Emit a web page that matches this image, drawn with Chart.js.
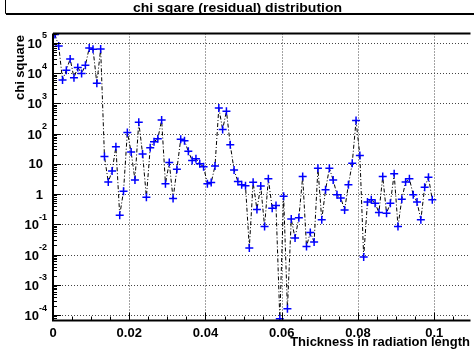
<!DOCTYPE html>
<html lang="en">
<head>
<meta charset="UTF-8" />
<title>chi sqare (residual) distribution</title>
<script src="https://cdn.jsdelivr.net/npm/chart.js@4.4.1/dist/chart.umd.min.js"></script>
<style>
html,body{margin:0;padding:0;background:#fff}
#wrap{width:474px;height:360px;position:relative;overflow:hidden}
</style>
</head>
<body>
<div id="wrap"><canvas id="chi"></canvas></div>

<script>
/* ── data ───────────────────────────────────────────────────────── */
const thickness = [
  0.0005,0.0015,0.0025,0.0035,0.0045,0.0055,0.0065,0.0075,0.0085,0.0095,
  0.0105,0.0115,0.0125,0.0135,0.0145,0.0155,0.0165,0.0175,0.0185,0.0195,
  0.0205,0.0215,0.0225,0.0235,0.0245,0.0255,0.0265,0.0275,0.0285,0.0295,
  0.0305,0.0315,0.0325,0.0335,0.0345,0.0355,0.0365,0.0375,0.0385,0.0395,
  0.0405,0.0415,0.0425,0.0435,0.0445,0.0455,0.0465,0.0475,0.0485,0.0495,
  0.0505,0.0515,0.0525,0.0535,0.0545,0.0555,0.0565,0.0575,0.0585,0.0595,
  0.0605,0.0615,0.0625,0.0635,0.0645,0.0655,0.0665,0.0675,0.0685,0.0695,
  0.0705,0.0715,0.0725,0.0735,0.0745,0.0755,0.0765,0.0775,0.0785,0.0795,
  0.0805,0.0815,0.0825,0.0835,0.0845,0.0855,0.0865,0.0875,0.0885,0.0895,
  0.0905,0.0915,0.0925,0.0935,0.0945,0.0955,0.0965,0.0975,0.0985,0.0995
];
const chiSquare = [
  1.9e5,7.9e4,5.9e3,1.26e4,2.95e4,7.1e3,1.55e4,9.8e3,1.82e4,6.8e4,
  6.2e4,4.6e3,6.3e4,17.4,2.5,5.8,37,0.20,1.24,110,
  24.5,2.95,240,21.4,0.79,34,54,68,282,2.2,
  11,0.71,6.6,65,58,26,12.9,14.8,10,8.1,
  2.2,2.4,8.5,710,138,550,43,6.3,2.6,2.04,
  1.9,0.0166,2.45,0.31,1.86,0.085,3.2,0.34,0.42,7.6e-5,
  0.85,1.6e-4,0.15,0.035,0.166,3.8,0.0186,0.054,0.026,7.1,
  0.141,1.38,7.1,2.95,0.95,0.74,0.30,2.04,10.5,270,
  19,0.0083,0.55,0.65,0.50,0.245,3.8,0.234,0.50,4.7,
  0.085,0.68,2.5,3.2,0.95,0.55,0.141,1.7,3.6,0.65
];
const xTicks = [0,0.02,0.04,0.06,0.08,0.1];
const xTickLabels = ['0','0.02','0.04','0.06','0.08','0.1'];
const yTicks = [1e-4,1e-3,1e-2,1e-1,1,10,1e2,1e3,1e4,1e5];
const yTickBase = ['10','10','10','10','1','10','10','10','10','10'];
const yTickExp  = ['-4','-3','-2','-1','','','2','3','4','5'];

const FONT = '"Liberation Sans", Arial, Helvetica, sans-serif';

/* ── frame, grid, ticks and labels in ROOT style ───────────────── */
const rootFrame = {
  id:'rootFrame',
  beforeDatasetsDraw(chart){
    const {ctx, chartArea:a, scales:{x,y}} = chart;
    ctx.save();
    ctx.strokeStyle='#444';ctx.lineWidth=1;ctx.setLineDash([1,2]);
    ctx.beginPath();
    xTicks.slice(1).forEach(v=>{
      const px=Math.round(x.getPixelForValue(v))+0.5;
      ctx.moveTo(px,a.top);ctx.lineTo(px,a.bottom);
    });
    yTicks.forEach(v=>{
      const py=Math.round(y.getPixelForValue(v))+0.5;
      ctx.moveTo(a.left,py);ctx.lineTo(a.right,py);
    });
    ctx.stroke();
    ctx.restore();
  },
  afterDraw(chart){
    const {ctx, chartArea:a, scales:{x,y}} = chart;
    ctx.save();
    ctx.strokeStyle='#000';ctx.fillStyle='#000';

    // axes lines
    ctx.lineWidth=2;
    ctx.beginPath();
    ctx.moveTo(a.left,a.top);ctx.lineTo(a.right+2,a.top);
    ctx.moveTo(a.left,a.top);ctx.lineTo(a.left,a.bottom);
    ctx.lineTo(a.right+2,a.bottom);
    ctx.stroke();

    // y ticks (major + minor)
    ctx.lineWidth=1;
    ctx.beginPath();
    for(let d=-5;d<=5;d++){
      for(let m=1;m<=9;m++){
        const v=m*Math.pow(10,d);
        if(v<y.min||v>y.max) continue;
        const py=Math.round(y.getPixelForValue(v))+0.5;
        const len=m===1?8:4;
        ctx.moveTo(a.left,py);ctx.lineTo(a.left+len,py);
      }
    }
    // x ticks (major every 0.02, minor every 0.005)
    for(let i=0;i*0.005<=x.max;i++){
      const v=i*0.005;
      const px=Math.round(x.getPixelForValue(v))+0.5;
      const len=i%4===0?8:4;
      ctx.moveTo(px,a.bottom);ctx.lineTo(px,a.bottom-len);
    }
    ctx.stroke();

    // x tick labels
    ctx.font='bold 13px '+FONT;
    ctx.textAlign='center';ctx.textBaseline='middle';
    xTicks.forEach((v,i)=>ctx.fillText(xTickLabels[i],x.getPixelForValue(v),333));

    // y tick labels with exponents
    yTicks.forEach((v,i)=>{
      const py=y.getPixelForValue(v);
      const ex=yTickExp[i];
      ctx.textBaseline='middle';
      if(ex){
        ctx.font='bold 9px '+FONT;
        const ew=ctx.measureText(ex).width;
        ctx.textAlign='left';
        ctx.fillText(ex,47-ew,py-7);
        ctx.font='bold 13px '+FONT;
        ctx.textAlign='right';
        ctx.fillText(yTickBase[i],47-ew,py+1.5);
      }else{
        ctx.font='bold 13px '+FONT;
        ctx.textAlign='right';
        ctx.fillText(yTickBase[i],43,py+1);
      }
    });

    // axis titles
    ctx.font='bold 13px '+FONT;
    ctx.textAlign='right';ctx.textBaseline='middle';
    ctx.fillText('Thickness in radiation length',470,342);
    ctx.save();
    ctx.translate(20,35);ctx.rotate(-Math.PI/2);
    ctx.textAlign='right';
    ctx.fillText('chi square',0,0);
    ctx.restore();

    // title box
    ctx.lineWidth=1;
    ctx.fillStyle='#fff';
    ctx.fillRect(5,0,480,14);
    ctx.beginPath();
    ctx.moveTo(5.5,0);ctx.lineTo(5.5,13.5);ctx.lineTo(480,13.5);
    ctx.stroke();
    ctx.fillStyle='#000';
    ctx.fillRect(6,14,480,1);
    const title='chi sqare (residual) distribution';
    ctx.font='bold 12px '+FONT;
    const tw=ctx.measureText(title).width;
    ctx.save();
    ctx.translate(237.5,12);ctx.scale(209/tw,1);
    ctx.textAlign='center';ctx.textBaseline='alphabetic';
    ctx.fillText(title,0,0);
    ctx.restore();
    ctx.restore();
  }
};

new Chart(document.getElementById('chi').getContext('2d'),{
  type:'line',
  data:{
    datasets:[{
      data:thickness.map((t,i)=>({x:t,y:chiSquare[i]})),
      borderColor:'#000',borderWidth:1,borderDash:[4,2,1,2],
      tension:0,fill:false,
      pointStyle:'cross',pointRadius:4,pointBorderWidth:1.5,
      pointBorderColor:'#0000ff',pointBackgroundColor:'#0000ff'
    }]
  },
  options:{
    responsive:true,maintainAspectRatio:false,animation:false,
    layout:{padding:{left:53,right:0,top:33.5,bottom:39.5}},
    plugins:{legend:{display:false},tooltip:{enabled:false}},
    scales:{
      x:{type:'linear',min:0,max:0.109,display:false},
      y:{type:'logarithmic',min:6.6e-5,max:2.05e5,display:false}
    }
  },
  plugins:[rootFrame]
});
</script>
</body>
</html>
